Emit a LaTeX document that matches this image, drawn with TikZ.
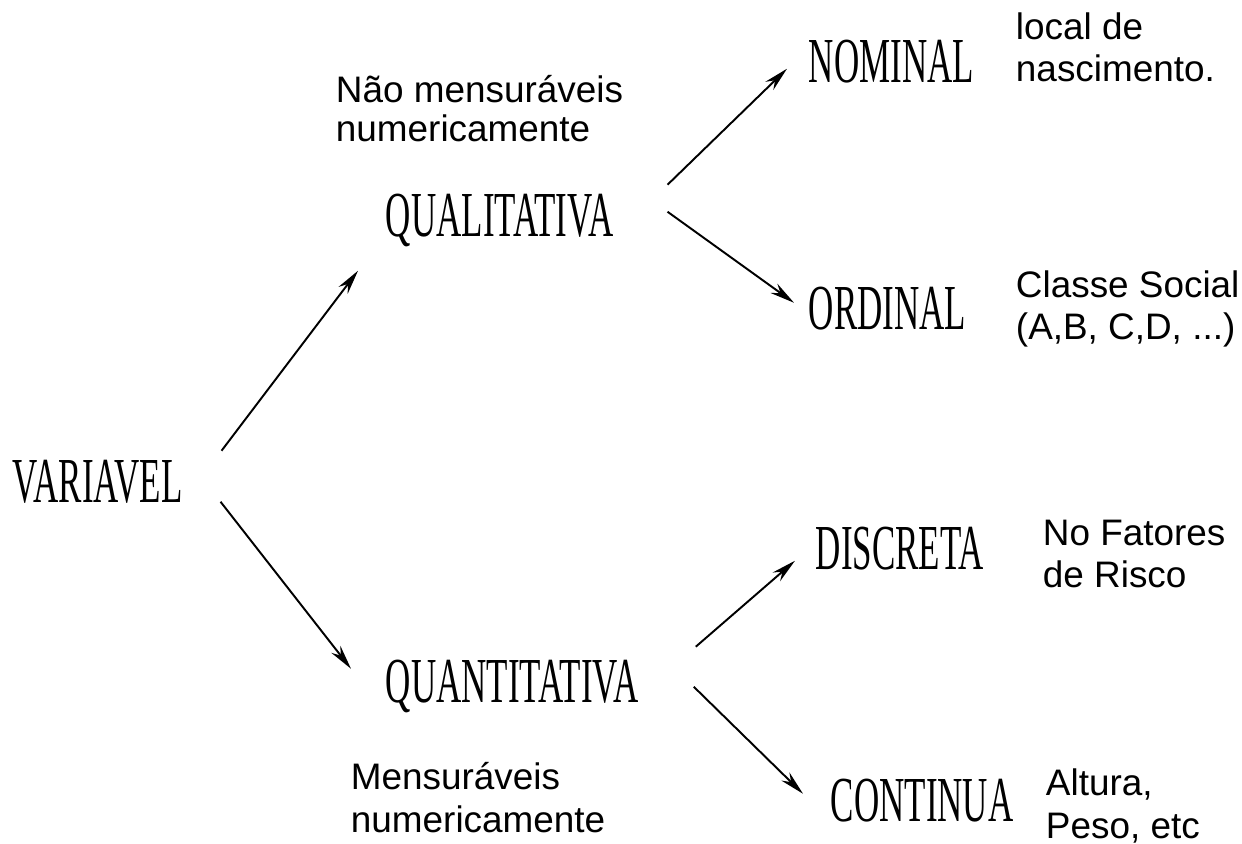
\documentclass[tikz,border=0pt]{standalone}
\usepackage{fontspec}
\setmainfont{Liberation Sans}
\newfontfamily\capsfont[FakeStretch=0.545]{Liberation Serif}
\usetikzlibrary{arrows.meta}

\begin{document}
\begin{tikzpicture}[x=0.02cm,y=-0.02cm,->,>={Stealth[length=14pt,width=6.5pt]},line width=1.1pt,
    class node/.style={inner sep=0pt,anchor=base west,text height=24.2pt,text depth=0pt,font=\capsfont\fontsize{36.5}{36.5}\selectfont},
    note/.style={inner sep=0pt,anchor=base west,align=left,font=\fontsize{21}{24.4}\selectfont}]
    \useasboundingbox (0,0) rectangle (1242,844);

    % main classes
    \node[class node] (var) at (12,503) {VARIAVEL};
    \node[class node] (quali) at (385,237) {QUALITATIVA};
    \node[class node] (quant) at (385,703) {QUANTITATIVA};
    \node[class node] (nom) at (808,83) {NOMINAL};
    \node[class node] (ord) at (808,330) {ORDINAL};
    \node[class node] (disc) at (815,570) {DISCRETA};
    \node[class node] (cont) at (830,822) {CONTINUA};

    % notes (placed at the baseline of their last line)
    \node[note,font=\fontsize{21}{22.5}\selectfont] (naomens) at (335,142) {Não mensuráveis\\numericamente};
    \node[note] (mens) at (350,832) {Mensuráveis\\numericamente};
    \node[note] (local) at (1015,82) {local de\\nascimento.};
    \node[note] (classe) at (1015,340) {Classe Social\\(A,B, C,D, ...)};
    \node[note] (fatores) at (1042,588) {No Fatores\\de Risco};
    \node[note] (altura) at (1045,838) {Altura,\\Peso, etc};

    \path
        ([shift={(38,-31)}]var.east) edge ([shift={(-27,55)}]quali.west)
        ([shift={(37,20)}]var.east) edge ([shift={(-34,-13)}]quant.west)
        ([shift={(53,-31)}]quali.east) edge ([shift={(-21,7)}]nom.west)
        ([shift={(53,-4)}]quali.east) edge ([shift={(-14,-6)}]ord.west)
        ([shift={(56,-35)}]quant.east) edge ([shift={(-20,12)}]disc.west)
        ([shift={(54,5)}]quant.east) edge ([shift={(-27,-7)}]cont.west)
        ;
\end{tikzpicture}
\end{document}
